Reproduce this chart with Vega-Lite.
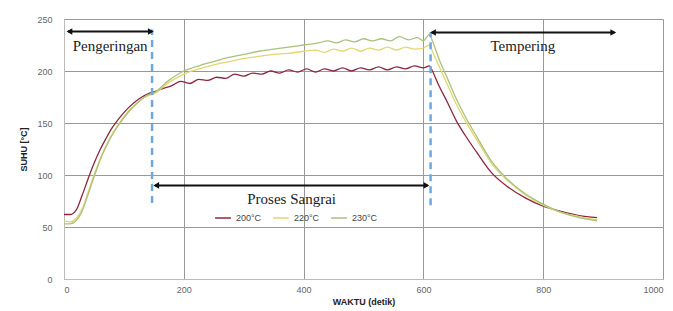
{
  "$schema": "https://vega.github.io/schema/vega-lite/v6.json",
  "width": 599,
  "height": 260,
  "autosize": "none",
  "padding": {"left": 64, "top": 19, "right": 10, "bottom": 32},
  "background": "white",
  "config": {"view": {"stroke": null}},
  "datasets": {
    "curves": [
      {"t":0,"T":62,"s":"200°C"},{"t":10,"T":62,"s":"200°C"},{"t":20,"T":66,"s":"200°C"},{"t":30,"T":80,"s":"200°C"},{"t":40,"T":96,"s":"200°C"},{"t":50,"T":111,"s":"200°C"},{"t":60,"T":124,"s":"200°C"},{"t":70,"T":135,"s":"200°C"},{"t":80,"T":145,"s":"200°C"},{"t":90,"T":153,"s":"200°C"},{"t":100,"T":160,"s":"200°C"},{"t":110,"T":166,"s":"200°C"},{"t":120,"T":171,"s":"200°C"},{"t":130,"T":175,"s":"200°C"},{"t":140,"T":178,"s":"200°C"},
      {"t":150,"T":180,"s":"200°C"},{"t":165,"T":183,"s":"200°C"},{"t":180,"T":186,"s":"200°C"},{"t":195,"T":190,"s":"200°C"},{"t":210,"T":188,"s":"200°C"},{"t":225,"T":192,"s":"200°C"},{"t":240,"T":191,"s":"200°C"},{"t":255,"T":194,"s":"200°C"},{"t":270,"T":193,"s":"200°C"},{"t":285,"T":197,"s":"200°C"},{"t":300,"T":195,"s":"200°C"},{"t":315,"T":198,"s":"200°C"},{"t":330,"T":197,"s":"200°C"},{"t":345,"T":200,"s":"200°C"},{"t":360,"T":198,"s":"200°C"},{"t":375,"T":201,"s":"200°C"},{"t":390,"T":199,"s":"200°C"},{"t":405,"T":202,"s":"200°C"},{"t":420,"T":199,"s":"200°C"},{"t":435,"T":202,"s":"200°C"},{"t":450,"T":200,"s":"200°C"},{"t":465,"T":203,"s":"200°C"},{"t":480,"T":200,"s":"200°C"},{"t":495,"T":203,"s":"200°C"},{"t":510,"T":201,"s":"200°C"},{"t":525,"T":204,"s":"200°C"},{"t":540,"T":201,"s":"200°C"},{"t":555,"T":204,"s":"200°C"},{"t":570,"T":202,"s":"200°C"},{"t":585,"T":205,"s":"200°C"},{"t":600,"T":203,"s":"200°C"},{"t":610,"T":205,"s":"200°C"},
      {"t":615,"T":200,"s":"200°C"},{"t":625,"T":187,"s":"200°C"},{"t":640,"T":170,"s":"200°C"},{"t":655,"T":152,"s":"200°C"},{"t":670,"T":138,"s":"200°C"},{"t":690,"T":121,"s":"200°C"},{"t":714,"T":102,"s":"200°C"},{"t":740,"T":89,"s":"200°C"},{"t":770,"T":78,"s":"200°C"},{"t":800,"T":70,"s":"200°C"},{"t":830,"T":65,"s":"200°C"},{"t":860,"T":61,"s":"200°C"},{"t":890,"T":59,"s":"200°C"},

      {"t":0,"T":56,"s":"220°C"},{"t":10,"T":55,"s":"220°C"},{"t":20,"T":58,"s":"220°C"},{"t":30,"T":67,"s":"220°C"},{"t":40,"T":83,"s":"220°C"},{"t":50,"T":100,"s":"220°C"},{"t":60,"T":115,"s":"220°C"},{"t":70,"T":128,"s":"220°C"},{"t":80,"T":139,"s":"220°C"},{"t":90,"T":148,"s":"220°C"},{"t":100,"T":156,"s":"220°C"},{"t":110,"T":163,"s":"220°C"},{"t":120,"T":168,"s":"220°C"},{"t":130,"T":173,"s":"220°C"},{"t":140,"T":176,"s":"220°C"},
      {"t":150,"T":178,"s":"220°C"},{"t":175,"T":189,"s":"220°C"},{"t":200,"T":197,"s":"220°C"},{"t":225,"T":202,"s":"220°C"},{"t":250,"T":206,"s":"220°C"},{"t":275,"T":209,"s":"220°C"},{"t":300,"T":212,"s":"220°C"},{"t":325,"T":214,"s":"220°C"},{"t":350,"T":216,"s":"220°C"},{"t":375,"T":217,"s":"220°C"},{"t":400,"T":219,"s":"220°C"},{"t":420,"T":220,"s":"220°C"},{"t":435,"T":218,"s":"220°C"},{"t":450,"T":221,"s":"220°C"},{"t":465,"T":219,"s":"220°C"},{"t":480,"T":222,"s":"220°C"},{"t":495,"T":219,"s":"220°C"},{"t":510,"T":222,"s":"220°C"},{"t":525,"T":220,"s":"220°C"},{"t":540,"T":223,"s":"220°C"},{"t":555,"T":220,"s":"220°C"},{"t":570,"T":223,"s":"220°C"},{"t":585,"T":221,"s":"220°C"},{"t":600,"T":222,"s":"220°C"},{"t":610,"T":225,"s":"220°C"},
      {"t":615,"T":219,"s":"220°C"},{"t":625,"T":206,"s":"220°C"},{"t":640,"T":187,"s":"220°C"},{"t":655,"T":168,"s":"220°C"},{"t":670,"T":152,"s":"220°C"},{"t":690,"T":133,"s":"220°C"},{"t":714,"T":111,"s":"220°C"},{"t":740,"T":95,"s":"220°C"},{"t":770,"T":81,"s":"220°C"},{"t":800,"T":71,"s":"220°C"},{"t":830,"T":64,"s":"220°C"},{"t":860,"T":60,"s":"220°C"},{"t":890,"T":57,"s":"220°C"},

      {"t":0,"T":53,"s":"230°C"},{"t":10,"T":53,"s":"230°C"},{"t":20,"T":56,"s":"230°C"},{"t":30,"T":65,"s":"230°C"},{"t":40,"T":81,"s":"230°C"},{"t":50,"T":98,"s":"230°C"},{"t":60,"T":114,"s":"230°C"},{"t":70,"T":127,"s":"230°C"},{"t":80,"T":138,"s":"230°C"},{"t":90,"T":147,"s":"230°C"},{"t":100,"T":155,"s":"230°C"},{"t":110,"T":162,"s":"230°C"},{"t":120,"T":168,"s":"230°C"},{"t":130,"T":173,"s":"230°C"},{"t":140,"T":177,"s":"230°C"},
      {"t":150,"T":179,"s":"230°C"},{"t":175,"T":191,"s":"230°C"},{"t":200,"T":200,"s":"230°C"},{"t":225,"T":205,"s":"230°C"},{"t":250,"T":209,"s":"230°C"},{"t":275,"T":213,"s":"230°C"},{"t":300,"T":216,"s":"230°C"},{"t":325,"T":219,"s":"230°C"},{"t":350,"T":221,"s":"230°C"},{"t":375,"T":223,"s":"230°C"},{"t":400,"T":225,"s":"230°C"},{"t":425,"T":227,"s":"230°C"},{"t":440,"T":229,"s":"230°C"},{"t":455,"T":227,"s":"230°C"},{"t":470,"T":230,"s":"230°C"},{"t":485,"T":228,"s":"230°C"},{"t":500,"T":231,"s":"230°C"},{"t":515,"T":229,"s":"230°C"},{"t":530,"T":231,"s":"230°C"},{"t":545,"T":229,"s":"230°C"},{"t":560,"T":233,"s":"230°C"},{"t":575,"T":230,"s":"230°C"},{"t":590,"T":232,"s":"230°C"},{"t":600,"T":229,"s":"230°C"},{"t":610,"T":235,"s":"230°C"},
      {"t":615,"T":229,"s":"230°C"},{"t":625,"T":213,"s":"230°C"},{"t":640,"T":193,"s":"230°C"},{"t":655,"T":173,"s":"230°C"},{"t":670,"T":156,"s":"230°C"},{"t":690,"T":136,"s":"230°C"},{"t":714,"T":113,"s":"230°C"},{"t":740,"T":96,"s":"230°C"},{"t":770,"T":82,"s":"230°C"},{"t":800,"T":72,"s":"230°C"},{"t":830,"T":64,"s":"230°C"},{"t":860,"T":59,"s":"230°C"},{"t":890,"T":56,"s":"230°C"}
    ],
    "dashes": [
      {"x": 147, "y1": 73, "y2": 240},
      {"x": 612, "y1": 71, "y2": 237}
    ],
    "arrows": [
      {"x1": 7, "x2": 147, "y": 238},
      {"x1": 614, "x2": 919, "y": 237},
      {"x1": 152, "x2": 607, "y": 90}
    ],
    "heads": [
      {"x": 9, "y": 238, "dir": "left"},
      {"x": 145, "y": 238, "dir": "right"},
      {"x": 616, "y": 237, "dir": "left"},
      {"x": 917, "y": 237, "dir": "right"},
      {"x": 154, "y": 90, "dir": "left"},
      {"x": 605, "y": 90, "dir": "right"}
    ],
    "labels": [
      {"x": 77, "y": 224, "label": "Pengeringan"},
      {"x": 766, "y": 224, "label": "Tempering"},
      {"x": 380, "y": 77, "label": "Proses Sangrai"}
    ]
  },
  "layer": [
    {
      "data": {"name": "curves"},
      "mark": {"type": "line", "strokeWidth": 1.3, "interpolate": "monotone"},
      "encoding": {
        "x": {
          "field": "t", "type": "quantitative",
          "scale": {"domain": [0, 1000], "nice": false},
          "axis": {
            "values": [0, 200, 400, 600, 800, 1000],
            "format": "d",
            "title": "WAKTU (detik)",
            "titleFont": "Liberation Sans", "titleFontSize": 9, "titleFontWeight": "bold", "titleColor": "#222",
            "titlePadding": 3,
            "labelFont": "Liberation Sans", "labelFontSize": 9, "labelColor": "#666",
            "labelPadding": 6,
            "ticks": false,
            "grid": true, "gridColor": "#999", "gridWidth": 1,
            "domainColor": "#bbb"
          }
        },
        "y": {
          "field": "T", "type": "quantitative",
          "scale": {"domain": [0, 250], "nice": false},
          "axis": {
            "values": [0, 50, 100, 150, 200, 250],
            "title": "SUHU [°C]",
            "titleFont": "Liberation Sans", "titleFontSize": 9, "titleFontWeight": "bold", "titleColor": "#222",
            "titlePadding": 8,
            "labelFont": "Liberation Sans", "labelFontSize": 9, "labelColor": "#666",
            "labelPadding": 12,
            "ticks": false,
            "grid": true, "gridColor": "#999", "gridWidth": 1,
            "domainColor": "#bbb"
          }
        },
        "color": {
          "field": "s", "type": "nominal",
          "scale": {"domain": ["200°C", "220°C", "230°C"], "range": ["#8B2840", "#E2D66E", "#A9C17C"]},
          "legend": {
            "title": null,
            "orient": "none",
            "legendX": 150,
            "legendY": 190,
            "direction": "horizontal",
            "symbolType": "stroke",
            "symbolSize": 250,
            "symbolStrokeWidth": 1.5,
            "labelFont": "Liberation Sans",
            "labelFontSize": 9,
            "labelColor": "#444",
            "columnPadding": 8
          }
        }
      }
    },
    {
      "data": {"name": "dashes"},
      "mark": {"type": "rule", "color": "#6FA8DC", "strokeWidth": 2.5, "strokeDash": [7, 5]},
      "encoding": {
        "x": {"field": "x", "type": "quantitative"},
        "y": {"field": "y1", "type": "quantitative"},
        "y2": {"field": "y2"}
      }
    },
    {
      "data": {"name": "arrows"},
      "mark": {"type": "rule", "color": "#111", "strokeWidth": 2},
      "encoding": {
        "x": {"field": "x1", "type": "quantitative"},
        "x2": {"field": "x2"},
        "y": {"field": "y", "type": "quantitative"}
      }
    },
    {
      "data": {"name": "heads"},
      "mark": {"type": "point", "filled": true, "color": "#111", "size": 45, "opacity": 1},
      "encoding": {
        "x": {"field": "x", "type": "quantitative"},
        "y": {"field": "y", "type": "quantitative"},
        "shape": {"field": "dir", "type": "nominal", "scale": {"domain": ["left", "right"], "range": ["triangle-left", "triangle-right"]}, "legend": null}
      }
    },
    {
      "data": {"name": "labels"},
      "mark": {"type": "text", "font": "Liberation Serif", "fontSize": 15, "color": "#222"},
      "encoding": {
        "x": {"field": "x", "type": "quantitative"},
        "y": {"field": "y", "type": "quantitative"},
        "text": {"field": "label"}
      }
    }
  ]
}
